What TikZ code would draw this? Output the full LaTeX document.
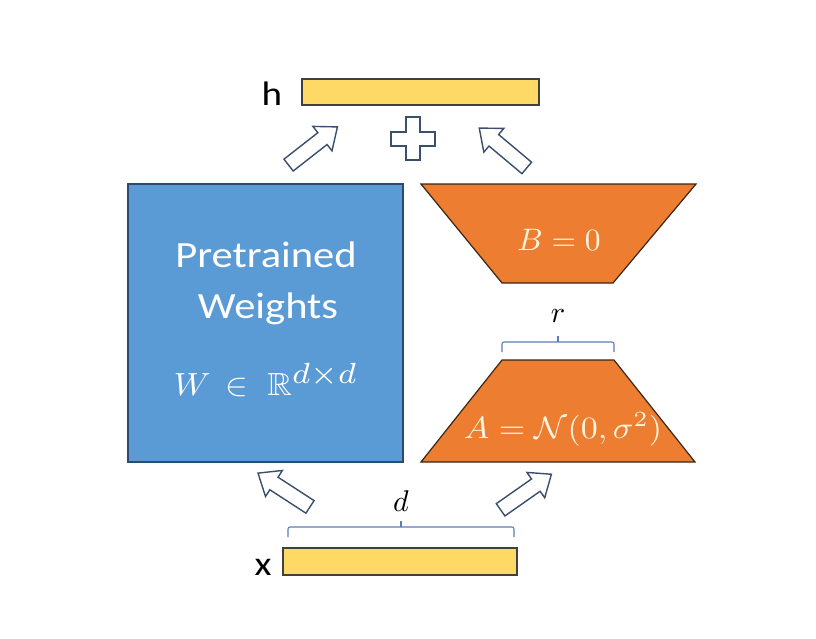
\documentclass[tikz,border=0pt]{standalone}
\usepackage{amssymb}
\usepackage{graphicx}
\usepackage{fontspec}
\newfontfamily\lblfont[FakeStretch=1.15]{Carlito}
\newcommand{\bigmath}[3]{\scalebox{#1}[#2]{$#3$}}
\definecolor{wblue}{HTML}{5B9BD5}
\definecolor{wborder}{HTML}{2C4A6E}
\definecolor{lorange}{HTML}{ED7D31}
\definecolor{oborder}{HTML}{3A2616}
\definecolor{lyellow}{HTML}{FFD966}
\definecolor{yborder}{HTML}{404040}
\definecolor{bracec}{HTML}{5A7DB5}
\definecolor{arrowc}{HTML}{3A4E6E}
\definecolor{paletxt}{HTML}{FFF4DC}
\begin{document}
\begin{tikzpicture}[x=1pt,y=-1pt,
  wtext/.style={text=white,font=\lblfont\fontsize{37}{44}\selectfont,inner sep=0pt,anchor=base},
  mtext/.style={text=paletxt,inner sep=0pt,anchor=base},
  blabel/.style={text=black,font=\lblfont\fontsize{34}{40}\selectfont,inner sep=0pt,anchor=base},
  mlabel/.style={text=black,inner sep=0pt,anchor=base},
  barbox/.style={draw=yborder,fill=lyellow,line width=1.3pt},
  trap/.style={draw=oborder,fill=lorange,line width=1.2pt},
  bracket/.style={draw=bracec,line width=1.1pt,rounded corners=2pt},
  arrowline/.style={draw=arrowc,fill=white,line width=1.4pt,line join=miter},
  blockarrow/.pic={\path[arrowline] (-31,-7.5) -- (12,-7.5) -- (12,-15.5) -- (31,0) -- (12,15.5) -- (12,7.5) -- (-31,7.5) -- cycle;}
]
\useasboundingbox (0,0) rectangle (816,638);

% pretrained weights
\node[draw=wborder,fill=wblue,line width=1.6pt,minimum width=275pt,minimum height=278pt,inner sep=0pt] (W) at (265.5,323) {};
\node[wtext] (pre) at (266,267) {Pretrained};
\node[wtext] (wei) at (268,318) {Weights};
\node[mtext,text=white] (wmath) at (266,395) {\bigmath{3.4}{3.2}{W\,\in\;\mathbb{R}^{\scalebox{1.3}{$\scriptstyle d\times d$}}}};

% B trapezoid
\coordinate (b1) at (421,184); \coordinate (b2) at (696,184);
\coordinate (b3) at (613,283); \coordinate (b4) at (502,283);
\path[trap] (b1) -- (b2) -- (b3) -- (b4) -- cycle;
\node[mtext] (B) at (559,250) {\bigmath{3.15}{3.1}{B=0}};

% A trapezoid
\coordinate (a1) at (502,360); \coordinate (a2) at (614,360);
\coordinate (a3) at (695,462); \coordinate (a4) at (421,462);
\path[trap] (a1) -- (a2) -- (a3) -- (a4) -- cycle;
\node[mtext] (A) at (563,438) {\bigmath{3.4}{3.1}{A=\mathcal{N}(0,\sigma^2)}};

% h bar
\node[barbox,minimum width=237pt,minimum height=26pt,inner sep=0pt] (hbar) at (420.5,92) {};
\node[blabel] (h) at (272,105) {h};

% x bar
\node[barbox,minimum width=234pt,minimum height=27pt,inner sep=0pt] (xbar) at (400,561.5) {};
\node[blabel] (x) at (263,575) {x};

% d bracket
\coordinate (d1) at (288,537); \coordinate (d2) at (514,537);
\coordinate (dm) at (401,527); \coordinate (dt) at (401,521);
\path[bracket] (d1) -- (288,527) -- (514,527) -- (d2);
\path[bracket] (dm) -- (dt);
\node[mlabel] (d) at (401,511) {\bigmath{3}{3}{d}};

% r bracket
\coordinate (r1) at (502,352); \coordinate (r2) at (614,352);
\coordinate (rm) at (558,342); \coordinate (rt) at (558,336);
\path[bracket] (r1) -- (502,342) -- (614,342) -- (r2);
\path[bracket] (rm) -- (rt);
\node[mlabel] (r) at (558,322) {\bigmath{3}{3}{r}};

% plus sign
\path[arrowline] (406,117) -- (420,117) -- (420,132) -- (435,132) -- (435,146) -- (420,146)
  -- (420,160) -- (406,160) -- (406,146) -- (391,146) -- (391,132) -- (406,132) -- cycle;

% block arrows
\pic[rotate=38] (tl) at (313,146) {blockarrow};
\pic[rotate=140] (tr) at (503,148) {blockarrow};
\pic[rotate=147] (bl) at (284,490) {blockarrow};
\pic[rotate=35] (br) at (526,492) {blockarrow};
\end{tikzpicture}
\end{document}
